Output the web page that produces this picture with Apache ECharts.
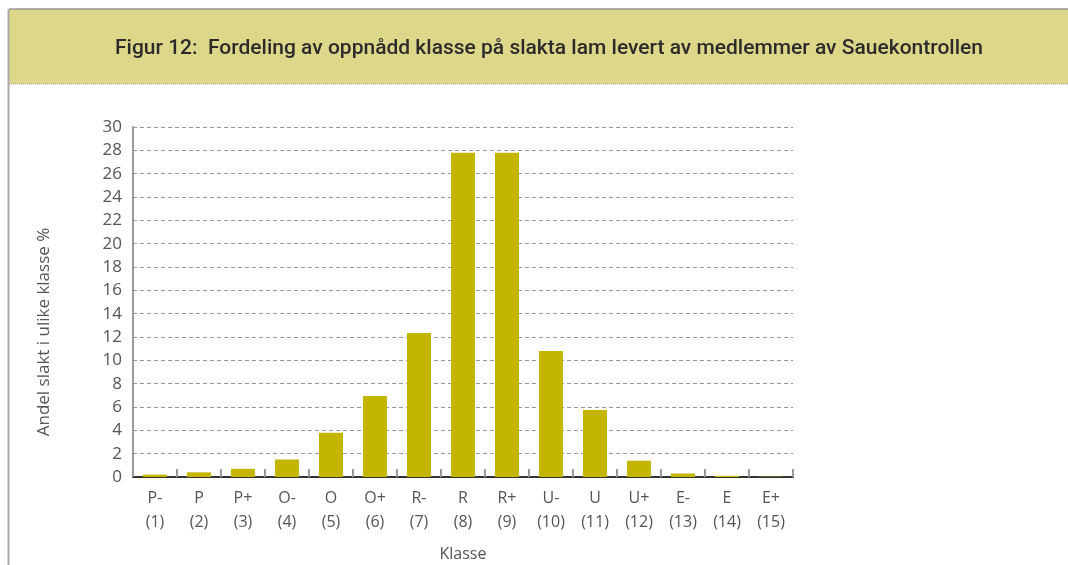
<!DOCTYPE html>
<html>
<head>
<meta charset="utf-8">
<script src="https://cdn.jsdelivr.net/npm/echarts@6/dist/echarts.min.js"></script>
<style>
  html, body { margin: 0; padding: 0; background: #fff; }
  #chart { width: 1068px; height: 565px; }
</style>
</head>
<body>
<div id="chart"></div>
<script>
// klasser og andel slakt (%)
var klasser = ['P-', 'P', 'P+', 'O-', 'O', 'O+', 'R-', 'R', 'R+', 'U-', 'U', 'U+', 'E-', 'E', 'E+'];
var andel = [0.2, 0.4, 0.7, 1.5, 3.8, 6.95, 12.35, 27.8, 27.8, 10.8, 5.75, 1.4, 0.3, 0.1, 0.03];
var yTicks = [0, 2, 4, 6, 8, 10, 12, 14, 16, 18, 20, 22, 24, 26, 28, 30];

(function() {
	var myChart = echarts.init(document.querySelector('#chart'));
	var font = '"Open Sans", "DejaVu Sans", sans-serif';

	var option = {
		animation: false,
		textStyle: { fontFamily: font },
		title: {
			text: 'Figur 12:  Fordeling av oppnådd klasse på slakta lam levert av medlemmer av Sauekontrollen',
			left: 544,
			top: 33,
			textAlign: 'center',
			textStyle: {
				fontFamily: 'Roboto, sans-serif',
				fontSize: 21,
				fontWeight: 500,
				color: '#2b2b2b'
			}
		},
		graphic: [
			{ type: 'rect', z: -10, shape: { x: 9, y: 9, width: 1060, height: 75 },
			  style: { fill: '#ddd789' } },
			{ type: 'line', z: -9, shape: { x1: 9, y1: 9, x2: 1068, y2: 9 },
			  style: { stroke: '#999', lineWidth: 1.5 } },
			{ type: 'line', z: -9, shape: { x1: 9, y1: 84, x2: 1068, y2: 84 },
			  style: { stroke: '#999', lineWidth: 1, lineDash: [1, 1] } },
			{ type: 'line', z: -9, shape: { x1: 8.5, y1: 9, x2: 8.5, y2: 565 },
			  style: { stroke: '#aaa', lineWidth: 2 } }
		],
		grid: {
			left: 133,
			right: 275,
			top: 127,
			bottom: 88,
			containLabel: false,
			outerBoundsMode: 'none'
		},
		xAxis: {
			type: 'category',
			data: klasser.map(function(k, i) { return k + '\n(' + (i + 1) + ')'; }),
			name: 'Klasse',
			nameLocation: 'middle',
			nameGap: 69,
			nameTextStyle: { fontSize: 16, color: '#555' },
			axisLine: { lineStyle: { color: '#333', width: 2 } },
			axisTick: {
				show: true,
				inside: true,
				length: 8,
				lineStyle: { color: '#999', width: 2 }
			},
			axisLabel: {
				interval: 0,
				fontSize: 16,
				lineHeight: 24,
				color: '#555',
				margin: 9
			}
		},
		yAxis: {
			type: 'value',
			min: yTicks[0],
			max: yTicks[yTicks.length - 1],
			interval: 2,
			name: 'Andel slakt i ulike klasse %',
			nameLocation: 'middle',
			nameGap: 80,
			nameTextStyle: { fontSize: 17, color: '#555', padding: [0, 60, 0, 0] },
			axisLine: { show: true, lineStyle: { color: '#999', width: 2 } },
			axisTick: { show: false },
			axisLabel: {
				fontSize: 17,
				color: '#555',
				margin: 11,
				padding: [0, 0, 8, 0]
			},
			splitLine: {
				lineStyle: { color: '#999', type: [4, 3], width: 1 }
			}
		},
		series: [
			{
				name: 'Andel',
				type: 'bar',
				barWidth: 24,
				data: andel,
				itemStyle: { color: '#c3b500' }
			}
		]
	};
	myChart.setOption(option);
})();
</script>
</body>
</html>
